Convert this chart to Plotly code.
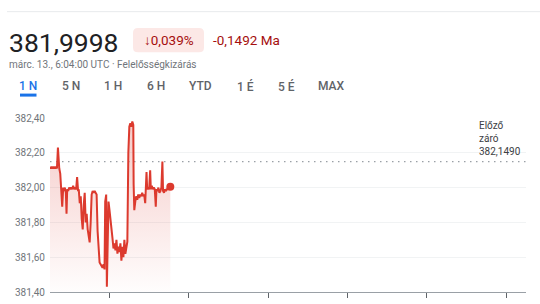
import pandas as pd
import plotly.graph_objects as go

# ---------------- data ----------------
day = "2024-03-13"
minutes = [0, 3, 6, 9, 12, 15, 18, 21, 24, 26, 28, 31, 34, 37, 40, 42, 45, 48, 50, 52,
           55, 58, 61, 64, 67, 70, 73, 76, 79, 82, 85, 87, 90, 93, 96, 99, 102, 105, 108, 111,
           114, 117, 120, 123, 126, 129, 132, 135, 138, 141, 144, 147, 150, 153, 156, 159, 162, 165, 167, 170,
           172, 174, 177, 180, 183, 186, 189, 192, 195, 198, 201, 204, 207, 210, 213, 216, 219, 222, 225, 228,
           231, 234, 237, 240, 243, 246, 249, 252, 253, 255, 258, 261, 264, 267, 270, 273, 276, 279, 282, 285,
           288, 291, 292, 294, 297, 300, 303, 305, 308, 311, 314, 317, 320, 322, 325, 328, 331, 334, 337, 340,
           342, 345, 348, 351, 354, 357, 360, 362, 364]
values = [382.12, 382.11, 382.12, 382.11, 382.12, 382.11, 382.12, 382.11, 382.23, 382.12,
          382.11, 382.08, 381.98, 381.89, 382.00, 381.98, 382.00, 381.97, 381.85, 381.99,
          381.98, 382.00, 381.99, 382.00, 381.99, 382.01, 381.99, 382.00, 381.99, 382.06,
          381.98, 381.99, 381.91, 381.95, 381.82, 381.76, 381.90, 381.97, 381.80, 381.85,
          381.76, 381.72, 381.685, 381.80, 381.96, 381.98, 381.97, 381.98, 381.97, 381.96,
          381.75, 381.62, 381.57, 381.56, 381.55, 381.54, 381.56, 381.53, 381.92, 381.96,
          381.43, 381.78, 381.92, 381.87, 381.80, 381.74, 381.71, 381.65, 381.68, 381.64,
          381.70, 381.62, 381.66, 381.63, 381.68, 381.58, 381.66, 381.60, 381.70, 381.62,
          381.66, 381.69, 382.20, 382.35, 382.37, 382.35, 382.38, 382.36, 382.02, 381.87,
          381.92, 381.95, 381.93, 381.96, 381.94, 381.96, 381.95, 381.97, 381.95, 381.96,
          381.91, 382.00, 382.09, 381.99, 382.00, 381.99, 382.10, 381.99, 382.01, 381.99,
          382.00, 381.99, 381.89, 381.99, 381.98, 382.00, 381.97, 381.98, 382.00, 382.15,
          381.98, 381.97, 381.99, 381.98, 381.99, 382.00, 381.99, 382.01, 382.005]
prev_close = 382.149
y_ticks = [381.40, 381.60, 381.80, 382.00, 382.20, 382.40]
x_tick_hours = [3, 7, 11, 15, 19, 23]
tabs = ["1 N", "5 N", "1 H", "6 H", "YTD", "1 É", "5 É", "MAX"]
tab_centers = [28, 70.5, 113, 155.5, 200.5, 245, 286.5, 331.5]

price_text = "381,9998"
pct_text = "↓0,039%"
chg_text = "-0,1492 Ma"
sub_text = "márc. 13., 6:04:00 UTC · Felelősségkizárás"

# ---------------- geometry ----------------
W, H = 540, 304
L, R, T, B = 50, 14, 118, 6
PW, PH = W - L - R, H - T - B


def xp(px):
    return (px - L) / PW


def yp(py):
    return (H - B - py) / PH


t0 = pd.Timestamp(day)
times = [t0 + pd.Timedelta(minutes=m) for m in minutes]
x_range = [t0, t0 + pd.Timedelta(hours=24)]
x_ticks = [t0 + pd.Timedelta(hours=h) for h in x_tick_hours]

RED = "#dc3a2e"
FONT = "Roboto"

fig = go.Figure()
# baseline for fill
fig.add_trace(go.Scatter(x=[times[0], times[-1]], y=[y_ticks[0], y_ticks[0]], mode="lines",
                         line=dict(width=0, color="rgba(0,0,0,0)"), hoverinfo="skip", showlegend=False))
fig.add_trace(go.Scatter(
    x=times, y=values, mode="lines", fill="tonexty",
    fillgradient=dict(type="vertical", start=y_ticks[0], stop=y_ticks[-1],
                      colorscale=[[0, "rgba(217,48,37,0)"], [1, "rgba(217,48,37,0.26)"]]),
    line=dict(color=RED, width=2), showlegend=False))
fig.add_trace(go.Scatter(x=[times[-1]], y=[values[-1]], mode="markers",
                         marker=dict(color=RED, size=8), showlegend=False))

shapes = []
# previous close dotted line
shapes.append(dict(type="line", xref="paper", yref="y", x0=0, x1=1, y0=prev_close, y1=prev_close,
                   line=dict(color="#9aa0a6", width=1.2, dash="1.5px,4.5px"), layer="below"))
# top separator line
shapes.append(dict(type="line", xref="paper", yref="paper", x0=xp(7), x1=xp(540), y0=yp(8), y1=yp(8),
                   line=dict(color="#e8eaed", width=1)))


def rrect(x0, y0, x1, y1, r):
    pts = (f"M {xp(x0 + r)},{yp(y0)} L {xp(x1 - r)},{yp(y0)} Q {xp(x1)},{yp(y0)} {xp(x1)},{yp(y0 + r)} "
           f"L {xp(x1)},{yp(y1 - r)} Q {xp(x1)},{yp(y1)} {xp(x1 - r)},{yp(y1)} "
           f"L {xp(x0 + r)},{yp(y1)} Q {xp(x0)},{yp(y1)} {xp(x0)},{yp(y1 - r)} "
           f"L {xp(x0)},{yp(y0 + r)} Q {xp(x0)},{yp(y0)} {xp(x0 + r)},{yp(y0)} Z")
    return pts


shapes.append(dict(type="path", xref="paper", yref="paper", path=rrect(133, 25, 204, 50, 5),
                   fillcolor="#fce8e6", line=dict(width=0)))
# tab underline
shapes.append(dict(type="line", xref="paper", yref="paper", x0=xp(20), x1=xp(36.5), y0=yp(94.3), y1=yp(94.3),
                   line=dict(color="#1a73e8", width=3)))

ann = []
ann.append(dict(text=price_text, x=xp(6.5), y=yp(39.5), xref="paper", yref="paper", xanchor="left",
                yanchor="middle", showarrow=False, font=dict(family=FONT, size=26.5, color="#202124")))
ann.append(dict(text=pct_text, x=xp(168.5), y=yp(37.5), xref="paper", yref="paper", xanchor="center",
                yanchor="middle", showarrow=False, font=dict(family=FONT, size=13.5, color="#a50e0e")))
ann.append(dict(text=chg_text, x=xp(211), y=yp(37.5), xref="paper", yref="paper", xanchor="left",
                yanchor="middle", showarrow=False, font=dict(family=FONT, size=13.5, color="#a50e0e")))
ann.append(dict(text=sub_text, x=xp(7), y=yp(62.5), xref="paper", yref="paper", xanchor="left",
                yanchor="middle", showarrow=False, font=dict(family=FONT, size=10, color="#70757a")))
for lab, cx in zip(tabs, tab_centers):
    active = lab == tabs[0]
    ann.append(dict(text=lab, x=xp(cx), y=yp(85), xref="paper", yref="paper", xanchor="center",
                    yanchor="middle", showarrow=False,
                    font=dict(family=FONT, size=12, weight=500, color="#1a73e8" if active else "#5f6368")))
ann.append(dict(text="Előző<br>záró<br>382,1490", x=xp(477), y=prev_close, xref="paper", yref="y",
                xanchor="left", yanchor="bottom", yshift=3, align="left", showarrow=False,
                font=dict(family=FONT, size=10, color="#3c4043")))

fig.update_layout(
    width=W, height=H, margin=dict(l=L, r=R, t=T, b=B),
    paper_bgcolor="white", plot_bgcolor="white",
    separators=", ", shapes=shapes, annotations=ann,
    font=dict(family=FONT),
    xaxis=dict(type="date", range=x_range, showgrid=False, zeroline=False,
               showline=True, linecolor="#9aa0a6", linewidth=1,
               tickmode="array", tickvals=x_ticks, ticks="outside", ticklen=5, tickcolor="#5f6368",
               showticklabels=False, fixedrange=True),
    yaxis=dict(range=[y_ticks[0], y_ticks[-1]], tickmode="array", tickvals=y_ticks, tickformat=".2f",
               showgrid=True, gridcolor="#f1f3f4", gridwidth=1, zeroline=False, showline=False,
               ticks="", ticklabelstandoff=4,
               tickfont=dict(family=FONT, size=10, color="#70757a"), fixedrange=True),
)

fig.write_html("out.html")
